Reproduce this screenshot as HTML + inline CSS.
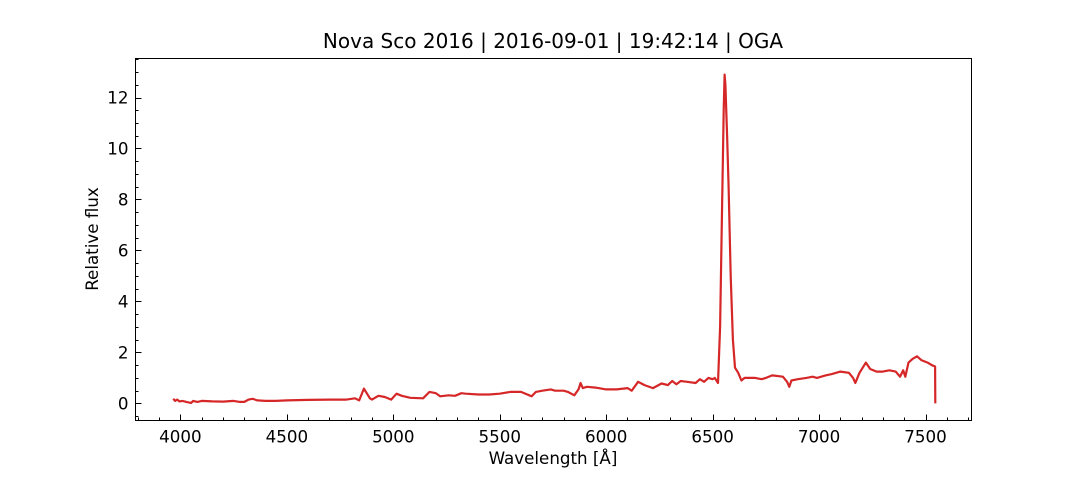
<!DOCTYPE html>
<html><head><meta charset="utf-8">
<style>
body{margin:0;background:#fff;}
svg text{font-family:"DejaVu Sans","Liberation Sans",sans-serif;fill:#000;}
</style></head>
<body>
<svg id="chart" width="1080" height="480" xmlns="http://www.w3.org/2000/svg">
<rect x="0" y="0" width="1080" height="480" fill="#fff"/>
<text x="553" y="48" text-anchor="middle" font-size="20">Nova Sco 2016 | 2016-09-01 | 19:42:14 | OGA</text>
<text x="553" y="464" text-anchor="middle" font-size="16.7">Wavelength [Å]</text>
<text x="98" y="239" text-anchor="middle" font-size="16.7" transform="rotate(-90 98 239)">Relative flux</text>
<g id="ticks"></g>
<path id="line" fill="none" stroke="#d62728" stroke-width="2.2" stroke-linejoin="round"/>
<rect x="135.5" y="58.5" width="836" height="362" fill="none" stroke="#000" stroke-width="1"/>
</svg>
<script>
const wavelengths=[3966,3975,3985,3995,4010,4030,4050,4060,4080,4100,4150,4200,4250,4280,4300,4320,4340,4360,4400,4450,4500,4600,4700,4780,4820,4840,4862,4890,4900,4930,4960,4990,5015,5040,5080,5140,5170,5200,5220,5260,5290,5320,5340,5400,5450,5500,5550,5600,5650,5670,5700,5740,5760,5800,5820,5850,5870,5880,5890,5910,5950,6000,6050,6100,6120,6150,6180,6220,6260,6290,6310,6330,6350,6380,6420,6440,6460,6480,6500,6510,6525,6535,6545,6552,6556,6560,6568,6575,6585,6595,6605,6620,6635,6650,6700,6730,6750,6780,6830,6850,6860,6870,6900,6940,6970,6990,7010,7030,7060,7100,7140,7160,7170,7190,7220,7240,7270,7300,7330,7360,7380,7395,7405,7420,7440,7460,7480,7510,7530,7545,7546];
const fluxes=[0.18,0.1,0.15,0.08,0.1,0.05,0.02,0.1,0.06,0.1,0.08,0.07,0.1,0.06,0.06,0.15,0.18,0.12,0.1,0.1,0.12,0.14,0.15,0.15,0.2,0.12,0.58,0.2,0.15,0.3,0.25,0.15,0.38,0.3,0.22,0.2,0.45,0.4,0.28,0.32,0.3,0.4,0.38,0.35,0.35,0.38,0.45,0.45,0.28,0.45,0.5,0.55,0.5,0.5,0.45,0.32,0.55,0.8,0.6,0.65,0.62,0.55,0.55,0.6,0.5,0.85,0.72,0.6,0.78,0.72,0.88,0.75,0.88,0.85,0.8,0.95,0.85,1.0,0.95,1.0,0.8,3.0,8.0,11.5,12.9,12.5,10.5,8.5,5.0,2.5,1.4,1.2,0.9,1.0,1.0,0.95,1.0,1.1,1.05,0.85,0.65,0.9,0.95,1.0,1.05,1.0,1.05,1.1,1.15,1.25,1.2,1.0,0.8,1.2,1.6,1.35,1.25,1.25,1.3,1.25,1.05,1.3,1.05,1.6,1.75,1.85,1.7,1.6,1.5,1.45,0.0];
const xTicks=[4000,4500,5000,5500,6000,6500,7000,7500];
const yTicks=[0,2,4,6,8,10,12];
const NS="http://www.w3.org/2000/svg";
const L=135.5,R=971.5,T=58.5,B=420.5;
const xMin=3789,xMax=7716,yMin=-0.67,yMax=13.53;
function xs(v){return L+(v-xMin)/(xMax-xMin)*(R-L);}
function ys(v){return B-(v-yMin)/(yMax-yMin)*(B-T);}
const g=document.getElementById('ticks');
function tick(x1,y1,x2,y2){const l=document.createElementNS(NS,'line');l.setAttribute('x1',x1);l.setAttribute('y1',y1);l.setAttribute('x2',x2);l.setAttribute('y2',y2);l.setAttribute('stroke','#000');l.setAttribute('stroke-width','1');


g.appendChild(l);}
for(let v=3800;v<=7700;v+=100){const x=Math.round(xs(v))+0.5;tick(x,B,x,B-(v%500===0?6:3));}
for(let v=-0.5;v<=13.5;v+=0.5){const y=Math.round(ys(v))+0.5;tick(L,y,L+(v%2===0?6:3),y);}
xTicks.forEach(v=>{const t=document.createElementNS(NS,'text');t.setAttribute('x',xs(v));t.setAttribute('y',B+22);t.setAttribute('text-anchor','middle');t.setAttribute('font-size','16.7');t.textContent=v;


g.appendChild(t);});
yTicks.forEach(v=>{const t=document.createElementNS(NS,'text');t.setAttribute('x',L-7);t.setAttribute('y',ys(v)+6);t.setAttribute('text-anchor','end');t.setAttribute('font-size','16.7');t.textContent=v;


g.appendChild(t);});
let d='';wavelengths.forEach((w,i)=>{d+=(i?'L':'M')+xs(w).toFixed(1)+','+ys(fluxes[i]).toFixed(1);});
document.getElementById('line').setAttribute('d',d);
</script>
</body></html>
